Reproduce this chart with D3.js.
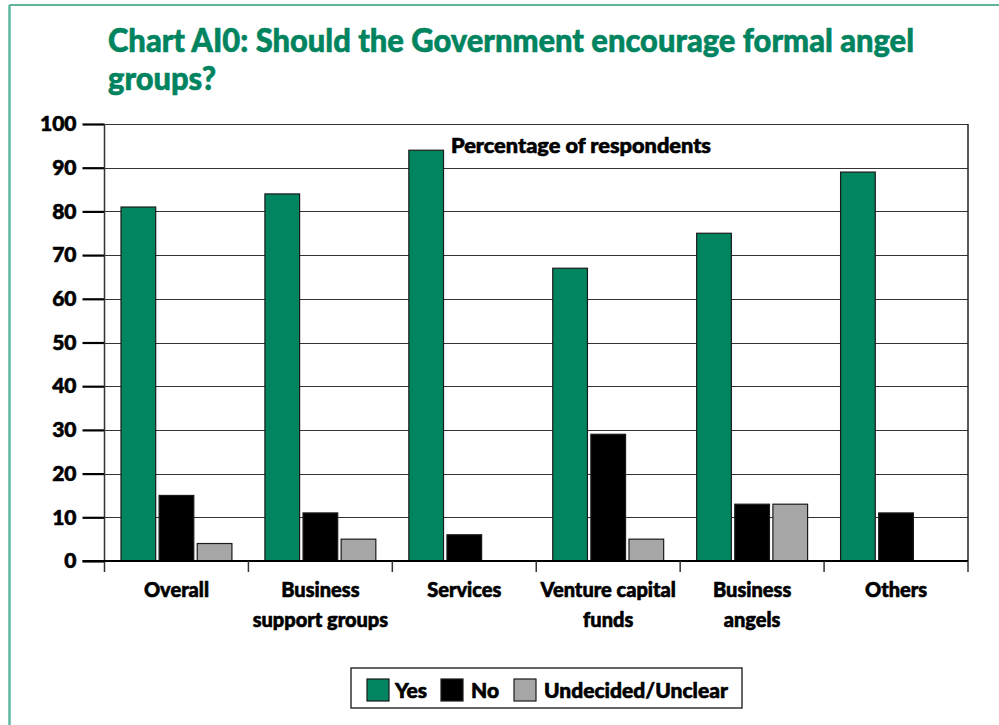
<!DOCTYPE html>
<html>
<head>
<meta charset="utf-8">
<script src="https://cdn.jsdelivr.net/npm/d3@7"></script>
<style>
  html, body { margin: 0; padding: 0; background: #fff; }
  svg { display: block; }
  text { font-family: Lato, "Open Sans", sans-serif; font-weight: 900; stroke-width: 0.6px; stroke-linejoin: round; }
</style>
</head>
<body>
<svg id="chart" width="999" height="725"></svg>
<script>
// Survey categories and answer series
const categories = ["Overall", "Business support groups", "Services", "Venture capital funds", "Business angels", "Others"];
const categoryLines = [["Overall"], ["Business", "support groups"], ["Services"], ["Venture capital", "funds"], ["Business", "angels"], ["Others"]];
const seriesNames = ["Yes", "No", "Undecided/Unclear"];
const yesValues = [81, 84, 94, 67, 75, 89];
const noValues = [15, 11, 6, 29, 13, 11];
const undecidedValues = [4, 5, 0, 5, 13, 0];
const yTicks = [0, 10, 20, 30, 40, 50, 60, 70, 80, 90, 100];
const seriesColors = ["#008560", "#000000", "#a6a6a6"];

const seriesValues = [yesValues, noValues, undecidedValues];
const rows = categories.map((c, i) => ({
  category: c,
  values: seriesNames.map((s, j) => ({ series: s, value: seriesValues[j][i], color: seriesColors[j] }))
}));

const svg = d3.select("#chart");
const plotLeft = 104.5, plotRight = 968, plotTop = 124, plotBottom = 561;

// Page frame lines
svg.append("line").attr("x1", 9.5).attr("x2", 999).attr("y1", 5).attr("y2", 5)
  .attr("stroke", "#2a9a78").attr("stroke-width", 1.5);
svg.append("line").attr("x1", 9.5).attr("x2", 9.5).attr("y1", 5).attr("y2", 725)
  .attr("stroke", "#5cb8a0").attr("stroke-width", 2.5);

// Title
const titleLines = ["Chart AI0: Should the Government encourage formal angel", "groups?"];
svg.append("text").attr("x", 108).attr("y", 52).attr("fill", "#00845f").attr("stroke", "#00845f")
  .attr("font-size", 33).attr("textLength", 806).attr("lengthAdjust", "spacingAndGlyphs")
  .text(titleLines[0]);
svg.append("text").attr("x", 108).attr("y", 90).attr("fill", "#00845f").attr("stroke", "#00845f")
  .attr("font-size", 33).attr("textLength", 108).attr("lengthAdjust", "spacingAndGlyphs")
  .text(titleLines[1]);

const x = d3.scaleBand().domain(categories).range([plotLeft, plotRight]).paddingInner(0).paddingOuter(0);
const xs = d3.scaleBand().domain(seriesNames).range([16.5, x.bandwidth() - 16.5]).paddingInner(0.09);
const y = d3.scaleLinear().domain([0, 100]).range([plotBottom, plotTop]);

// Horizontal gridlines
svg.append("g").selectAll("line").data(yTicks.filter(t => t > 0)).join("line")
  .attr("x1", plotLeft).attr("x2", plotRight)
  .attr("y1", d => Math.round(y(d)) + 0.5).attr("y2", d => Math.round(y(d)) + 0.5)
  .attr("stroke", "#333").attr("stroke-width", 1.2);

// Right frame edge
svg.append("line").attr("x1", plotRight).attr("x2", plotRight).attr("y1", plotTop).attr("y2", plotBottom)
  .attr("stroke", "#222").attr("stroke-width", 1.5);

// Bars
const groups = svg.append("g").selectAll("g").data(rows).join("g")
  .attr("transform", d => `translate(${x(d.category)},0)`);
groups.selectAll("rect").data(d => d.values.filter(v => v.value > 0)).join("rect")
  .attr("x", d => xs(d.series))
  .attr("width", xs.bandwidth())
  .attr("y", d => y(d.value))
  .attr("height", d => y(0) - y(d.value))
  .attr("fill", d => d.color)
  .attr("stroke", "#1a1a1a").attr("stroke-width", 1.2);

// Y axis
const yAxis = svg.append("g").attr("transform", `translate(${plotLeft},0)`)
  .call(d3.axisLeft(y).tickValues(yTicks).tickSize(22).tickPadding(6).tickSizeOuter(0));
yAxis.select(".domain").remove();
yAxis.selectAll(".tick line").attr("stroke", "#000").attr("stroke-width", 2.2);
yAxis.selectAll(".tick text").attr("font-size", 21).attr("fill", "#000").attr("stroke", "#000")
  .attr("font-family", "Lato, sans-serif").attr("font-weight", 900);
svg.append("line").attr("x1", plotLeft).attr("x2", plotLeft).attr("y1", plotTop).attr("y2", plotBottom + 11)
  .attr("stroke", "#333").attr("stroke-width", 1.5);

// X axis baseline and category ticks
svg.append("line").attr("x1", plotLeft - 22).attr("x2", plotRight).attr("y1", plotBottom).attr("y2", plotBottom)
  .attr("stroke", "#000").attr("stroke-width", 2);
const catBounds = categories.map(c => x(c)).concat([plotRight]);
svg.append("g").selectAll("line").data(catBounds.slice(1)).join("line")
  .attr("x1", d => d).attr("x2", d => d).attr("y1", plotBottom).attr("y2", plotBottom + 11)
  .attr("stroke", "#333").attr("stroke-width", 1.5);

// Category labels
const lbl = svg.append("g").selectAll("text").data(categories).join("text")
  .attr("x", d => x(d) + x.bandwidth() / 2)
  .attr("y", 597).attr("text-anchor", "middle").attr("font-size", 20)
  .attr("fill", "#000").attr("stroke", "#000");
lbl.selectAll("tspan").data((d, i) => categoryLines[i]).join("tspan")
  .attr("x", function () { return this.parentNode.getAttribute("x"); })
  .attr("dy", (d, i) => i === 0 ? 0 : 30)
  .text(d => d);

// Axis caption
svg.append("text").attr("x", 451).attr("y", 153).attr("font-size", 20)
  .attr("fill", "#000").attr("stroke", "#000")
  .attr("textLength", 260).attr("lengthAdjust", "spacingAndGlyphs")
  .text("Percentage of respondents");

// Legend
const legend = svg.append("g");
legend.append("rect").attr("x", 351).attr("y", 668).attr("width", 391).attr("height", 40)
  .attr("fill", "#fff").attr("stroke", "#333").attr("stroke-width", 1.5);
const legendItems = [
  { name: seriesNames[0], color: seriesColors[0], sx: 367, tx: 395 },
  { name: seriesNames[1], color: seriesColors[1], sx: 441, tx: 471 },
  { name: seriesNames[2], color: seriesColors[2], sx: 514, tx: 544 }
];
legend.selectAll("rect.sw").data(legendItems).join("rect").attr("class", "sw")
  .attr("x", d => d.sx).attr("y", 679).attr("width", 22).attr("height", 22)
  .attr("fill", d => d.color).attr("stroke", "#1a1a1a").attr("stroke-width", 1.2);
legend.selectAll("text").data(legendItems).join("text")
  .attr("x", d => d.tx).attr("y", 698).attr("font-size", 21)
  .attr("fill", "#000").attr("stroke", "#000")
  .text(d => d.name);
</script>
</body>
</html>
